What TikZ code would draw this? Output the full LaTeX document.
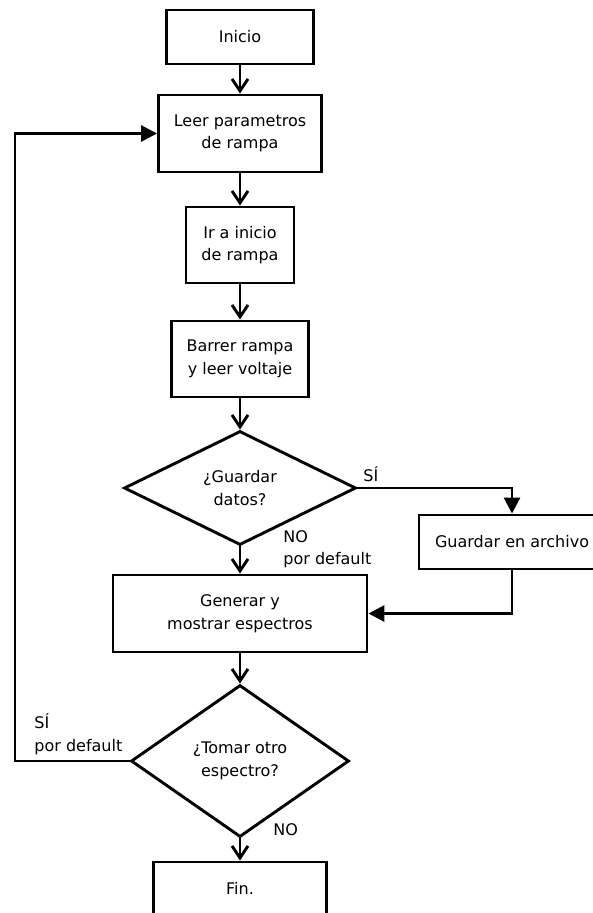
\documentclass[tikz,border=0pt]{standalone}
\usepackage{fontspec}
\setmainfont{DejaVu Sans}
\usetikzlibrary{arrows.meta,shapes.geometric}

\begin{document}
\begin{tikzpicture}[x=1pt,y=-1pt,line width=2.9pt,
    caja/.style={draw,rectangle,inner sep=0pt,align=center,font=\fontsize{16}{22.5}\selectfont},
    decision/.style={draw,diamond,inner sep=0pt,aspect=2,align=center,font=\fontsize{16}{22.5}\selectfont},
    etiqueta/.style={align=left,anchor=west,inner sep=0pt,font=\fontsize{16}{22.5}\selectfont},
    flujo/.style={-{Straight Barb[length=12pt,width=16pt]}},
    rama/.style={-{Triangle[length=16pt,width=16pt]}}]
            \useasboundingbox (0,0) rectangle (593,913);
            \clip (0,0) rectangle (593,913);
            % cajas
            \node[caja,minimum width=147pt,minimum height=54pt] (inicio) at (240,37) {Inicio};
            \node[caja,minimum width=163pt,minimum height=77pt] (leer) at (240,133.5) {Leer parametros\\de rampa};
            \node[caja,minimum width=108pt,minimum height=76pt] (ir) at (240,245) {Ir a inicio\\de rampa};
            \node[caja,minimum width=137pt,minimum height=76pt] (barrer) at (240,359) {Barrer rampa\\y leer voltaje};
            \node[decision,minimum width=232pt,minimum height=114pt] (guardar) at (240,488) {¿Guardar\\datos?};
            \node[caja,minimum width=186pt,minimum height=54pt] (archivo) at (512,542) {Guardar en archivo};
            \node[caja,minimum width=254pt,minimum height=77pt] (generar) at (240,613.5) {Generar y\\mostrar espectros};
            \node[decision,minimum width=218pt,minimum height=152pt] (tomar) at (240,761) {¿Tomar otro\\espectro?};
            \node[caja,minimum width=173pt,minimum height=52pt] (fin) at (240,888) {Fin.};
            \coordinate (vuelta) at (15,133.5);
            % etiquetas
            \node[etiqueta] (si1) at (362,474) {SÍ};
            \node[etiqueta] (no1) at (282,549) {NO\\por default};
            \node[etiqueta] (si2) at (33,734) {SÍ\\por default};
            \node[etiqueta] (no2) at (272,830) {NO};
            % conectores
            \draw[flujo] (inicio) -- (leer);
            \draw[flujo] (leer) -- (ir);
            \draw[flujo] (ir) -- (barrer);
            \draw[flujo] (barrer) -- (guardar);
            \draw[flujo] (guardar) -- (generar);
            \draw[flujo] (generar) -- (tomar);
            \draw[flujo] (tomar) -- (fin);
            \draw[rama] (guardar.east) -| (archivo.north);
            \draw[rama] (archivo.south) |- (generar.east);
            \draw[rama] (tomar.west) -| (vuelta) -- (leer.west);
\end{tikzpicture}
\end{document}
